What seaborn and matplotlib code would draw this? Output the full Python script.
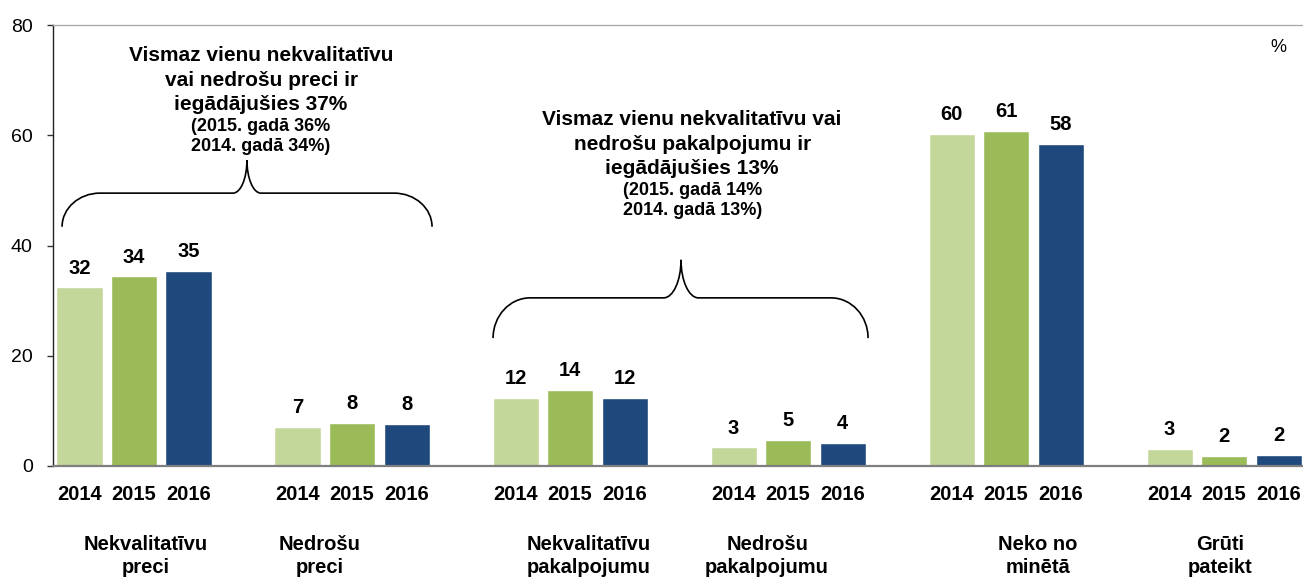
"""
Purchases of poor-quality / unsafe goods and services, 2014-2016
"""

import numpy as np
import pandas as pd
import seaborn as sns
import matplotlib.pyplot as plt
import matplotlib.transforms as mtransforms
from matplotlib.path import Path
from matplotlib.patches import PathPatch

# Data
groups = ['Nekvalitatīvu preci', 'Nedrošu preci', 'Nekvalitatīvu pakalpojumu',
          'Nedrošu pakalpojumu', 'Neko no minētā', 'Grūti pateikt']
group_labels = ['Nekvalitatīvu\npreci', 'Nedrošu\npreci', 'Nekvalitatīvu\npakalpojumu',
                'Nedrošu\npakalpojumu', 'Neko no\nminētā', 'Grūti\npateikt']
years = ['2014', '2015', '2016']
vals_2014 = [32.4, 7.1, 12.3, 3.4, 60.3, 3.1]
vals_2015 = [34.4, 7.8, 13.8, 4.7, 60.8, 1.8]
vals_2016 = [35.4, 7.6, 12.4, 4.2, 58.4, 2.0]

note_goods = ['Vismaz vienu nekvalitatīvu', 'vai nedrošu preci ir', 'iegādājušies 37%',
              '(2015. gadā 36%', '2014. gadā 34%)']
note_services = ['Vismaz vienu nekvalitatīvu vai', 'nedrošu pakalpojumu ir', 'iegādājušies 13%',
                 '(2015. gadā 14%', '2014. gadā 13%)']

colors = ['#C4D79B', '#9BBB59', '#1F497D']


def draw_brace(ax, x0, x1, xc, y_end, y_h, y_tip, r_out, r_in):
    """Curly brace opening downwards, tip pointing up at xc"""
    k = 0.5523
    dy1 = y_h - y_end
    dy2 = y_tip - y_h
    verts = [
        (x0, y_end),
        (x0, y_end + k * dy1), (x0 + r_out * (1 - k), y_h), (x0 + r_out, y_h),
        (xc - r_in, y_h),
        (xc - r_in * (1 - k), y_h), (xc, y_tip - k * dy2), (xc, y_tip),
        (xc, y_tip - k * dy2), (xc + r_in * (1 - k), y_h), (xc + r_in, y_h),
        (x1 - r_out, y_h),
        (x1 - r_out * (1 - k), y_h), (x1, y_end + k * dy1), (x1, y_end),
    ]
    codes = ([Path.MOVETO] + [Path.CURVE4] * 3 + [Path.LINETO] + [Path.CURVE4] * 6
             + [Path.LINETO] + [Path.CURVE4] * 3)
    ax.add_patch(PathPatch(Path(verts, codes), fill=False, edgecolor='black',
                           lw=1.2, clip_on=False))


def main():
    sns.set_theme(style='ticks')
    plt.rcParams['font.family'] = ['Liberation Sans', 'DejaVu Sans']
    plt.rcParams['text.color'] = 'black'
    plt.rcParams['xtick.color'] = 'black'
    plt.rcParams['ytick.color'] = 'black'

    df = pd.DataFrame({
        'group': groups * 3,
        'year': np.repeat(years, len(groups)),
        'value': vals_2014 + vals_2015 + vals_2016,
    })

    fig = plt.figure(figsize=(13.03, 5.77), dpi=100)
    ax = fig.add_axes([53 / 1303, 111 / 577, 1250 / 1303, 441 / 577])

    sns.barplot(data=df, x='group', y='value', hue='year', order=groups, hue_order=years,
                palette=colors, saturation=1, width=0.75, gap=0.155, legend=False, ax=ax)

    # Value labels
    for c in ax.containers:
        ax.bar_label(c, fmt='%.0f', padding=7, fontsize=14.5, fontweight='bold', color='black')

    # Year labels under every bar
    centers, labels = [], []
    for year, c in zip(years, ax.containers):
        for p in c:
            centers.append(p.get_x() + p.get_width() / 2)
            labels.append(year)
    ax.set_xticks(centers, labels)
    ax.tick_params(axis='x', length=0, pad=13.5, labelsize=14.5, labelcolor='black')
    for t in ax.get_xticklabels():
        t.set_fontweight('bold')

    # Group labels
    shifts = [0.055, -0.147, 0.087, -0.096, 0.147, -0.018]
    trans = mtransforms.blended_transform_factory(ax.transData, ax.transAxes)
    for i, lab in enumerate(group_labels):
        ax.text(i + shifts[i], -0.156, lab, transform=trans, ha='center', va='top',
                fontsize=14.5, fontweight='bold', linespacing=1.28, color='black')

    # Axes styling
    ax.set_xlim(-0.3716, 5.362)
    ax.set_ylim(0, 80)
    ax.set_yticks([0, 20, 40, 60, 80])
    ax.tick_params(axis='y', length=4.5, width=1, pad=10, labelsize=14,
                   color='#333333', labelcolor='black')
    ax.set_xlabel('')
    ax.set_ylabel('')
    ax.spines['right'].set_visible(False)
    ax.spines['top'].set_visible(True)
    ax.spines['top'].set_color('#A6A6A6')
    ax.spines['top'].set_linewidth(0.9)
    ax.spines['left'].set_color('#222222')
    ax.spines['left'].set_linewidth(1.0)
    ax.spines['bottom'].set_color('#7F7F7F')
    ax.spines['bottom'].set_linewidth(1.6)

    # Braces and notes
    draw_brace(ax, -0.330, 1.367, 0.518, 43.4, 49.5, 55.5, 0.174, 0.064)
    draw_brace(ax, 1.647, 3.367, 2.509, 23.2, 30.5, 37.4, 0.17, 0.08)

    for x, ys, lines in [(0.583, [73.47, 68.93, 64.58, 60.77, 57.14], note_goods),
                         (2.560, [61.86, 57.32, 52.97, 49.16, 45.53], note_services)]:
        for j, (y, line) in enumerate(zip(ys, lines)):
            ax.text(x, y, line, ha='center', va='baseline', fontweight='bold',
                    fontsize=15 if j < 3 else 13, color='black')

    ax.text(0.98, 0.95, '%', transform=ax.transAxes, ha='center', va='center',
            fontsize=13, color='black')

    fig.savefig('out.png', dpi=100)


if __name__ == "__main__":
    main()
